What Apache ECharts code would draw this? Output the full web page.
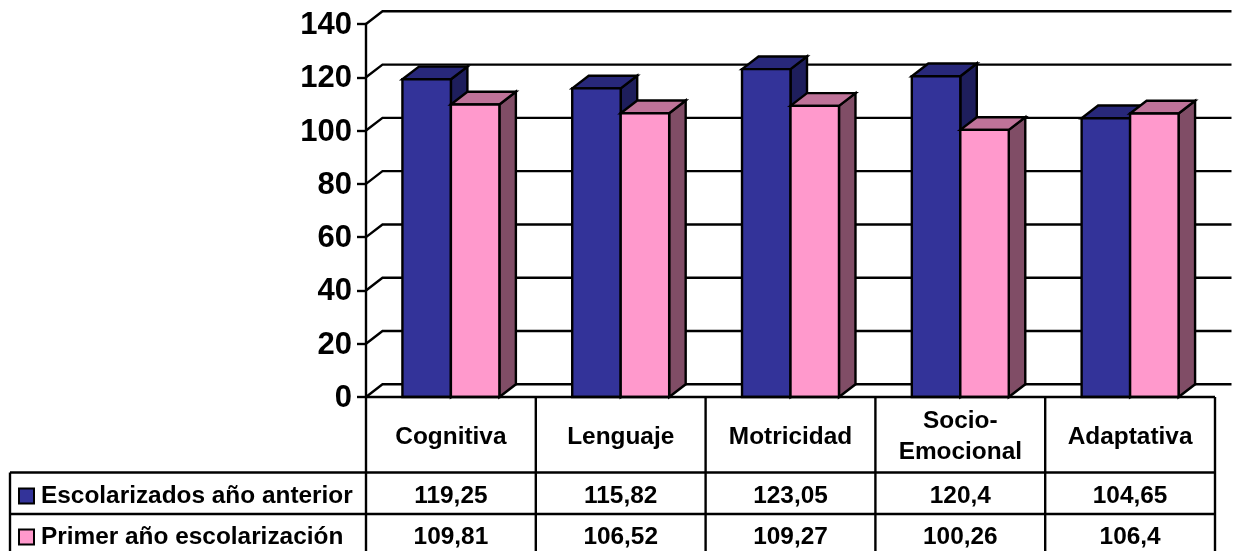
<!DOCTYPE html>
<html><head><meta charset="utf-8">
<style>html,body{margin:0;padding:0;background:#fff}#c{width:1240px;height:551px}</style>
<script src="https://cdn.jsdelivr.net/npm/echarts@6/dist/echarts.min.js"></script>
</head><body><div id="c"></div>
<script>
const categories = ['Cognitiva','Lenguaje','Motricidad','Socio-\nEmocional','Adaptativa'];
const seriesNames = ['Escolarizados año anterior','Primer año escolarización'];
const escolarizados = [119.25,115.82,123.05,120.4,104.65];
const primerAno = [109.81,106.52,109.27,100.26,106.4];
const yTicks = [0,20,40,60,80,100,120,140];

const FONT = '"Liberation Sans", Arial, sans-serif';
const DX = 16.5, DY = -12.7, BAR_RATIO = 0.2855;
const LEFT = 366, TOP = 24, W = 849, H = 373, TABLE_LEFT = 10, ROW1 = 472.5, ROW2 = 514, BOTTOM = 560;
const LW = 2.4, TXT = 24.4;
const L = {stroke:'#000', lineWidth:LW};
const fmt = v => String(v).replace('.', ',');
const palette = [
  {front:'#333399', top:'#28287a', side:'#1e1e5c'},
  {front:'#ff99cc', top:'#bf7399', side:'#804d66'}
];

function barRender(idx){
  return function(params, api){
    const i = api.value(0), v = api.value(1);
    const base = api.coord([i,0]), tip = api.coord([i,v]);
    const w = api.size([1,0])[0]*BAR_RATIO;
    const x0 = base[0] + (idx===0 ? -w : 0), x1 = x0 + w;
    const y0 = base[1], y1 = tip[1];
    const c = palette[idx];
    return {type:'group', children:[
      {type:'polygon', shape:{points:[[x1,y1],[x1+DX,y1+DY],[x1+DX,y0+DY],[x1,y0]]}, style:{fill:c.side, ...L}},
      {type:'polygon', shape:{points:[[x0,y1],[x0+DX,y1+DY],[x1+DX,y1+DY],[x1,y1]]}, style:{fill:c.top, ...L}},
      {type:'rect', shape:{x:x0,y:y1,width:w,height:y0-y1}, style:{fill:c.front, ...L}}
    ]};
  };
}
function wallRender(params, api){
  const p = api.coord([0, api.value(0)]);
  const y = p[1];
  return {type:'polyline', shape:{points:[[LEFT,y],[LEFT+DX,y+DY],[LEFT+W+DX,y+DY]]}, style:{fill:null, ...L}};
}
function tableRender(params, api){
  const i = params.dataIndex;
  const cx = api.coord([i,0])[0], cw = api.size([1,0])[0];
  const text = (v,y)=>({type:'text', style:{text:fmt(v), x:cx, y:y, align:'center', verticalAlign:'middle',
     font:'bold '+TXT+'px '+FONT, fill:'#000'}});
  const kids = [
    {type:'line', shape:{x1:cx+cw/2,y1:TOP+H,x2:cx+cw/2,y2:BOTTOM}, style:L},
    text(api.value(1), 496),
    text(api.value(2), 537)
  ];
  if(i===0){
    kids.push(
      {type:'line', shape:{x1:LEFT,y1:TOP+H,x2:LEFT,y2:BOTTOM}, style:L},
      {type:'line', shape:{x1:LEFT,y1:TOP+H,x2:LEFT+W,y2:TOP+H}, style:L},
      {type:'line', shape:{x1:TABLE_LEFT,y1:ROW1,x2:LEFT+W,y2:ROW1}, style:L},
      {type:'line', shape:{x1:TABLE_LEFT,y1:ROW2,x2:LEFT+W,y2:ROW2}, style:L},
      {type:'line', shape:{x1:TABLE_LEFT,y1:ROW1,x2:TABLE_LEFT,y2:BOTTOM}, style:L}
    );
  }
  return {type:'group', children:kids};
}
const legendFor = (k, top) => ({
  left:18, top:top, itemWidth:15, itemHeight:15, selectedMode:false, icon:'rect', padding:0,
  textStyle:{fontFamily:FONT, fontWeight:'bold', fontSize:TXT, color:'#000', padding:[6,0,0,2]},
  data:[{name:seriesNames[k], itemStyle:{color:palette[k].front, borderColor:'#000', borderWidth:2}}]
});

const chart = echarts.init(document.getElementById('c'), null, {renderer:'canvas'});
chart.setOption({
  animation:false,
  backgroundColor:'#fff',
  grid:{left:LEFT, top:TOP, width:W, height:H},
  legend:[legendFor(0,484), legendFor(1,525)],
  xAxis:{type:'category', data:categories,
    axisLine:{show:false}, axisTick:{show:false}, splitLine:{show:false},
    axisLabel:{interval:0, margin:40, verticalAlign:'middle', lineHeight:31, fontFamily:FONT, fontWeight:'bold', fontSize:TXT, color:'#000'}},
  yAxis:{type:'value', min:0, max:140, interval:20,
    axisLine:{show:true, lineStyle:{color:'#000', width:LW}},
    axisTick:{show:true, length:9, lineStyle:{color:'#000', width:LW}},
    splitLine:{show:false},
    axisLabel:{margin:14, verticalAlign:'top', lineHeight:3, fontFamily:FONT, fontWeight:'bold', fontSize:31, color:'#000', hideOverlap:false}},
  series:[
    {type:'custom', name:'wall', coordinateSystem:'cartesian2d', z:1, data:yTicks.map(t=>[t]), encode:{y:0}, renderItem:wallRender, silent:true},
    {type:'custom', name:seriesNames[0], z:3, itemStyle:{color:palette[0].front}, data:escolarizados.map((v,i)=>[i,v]), encode:{x:0,y:1}, renderItem:barRender(0)},
    {type:'custom', name:seriesNames[1], z:4, itemStyle:{color:palette[1].front}, data:primerAno.map((v,i)=>[i,v]), encode:{x:0,y:1}, renderItem:barRender(1)},
    {type:'custom', name:'tabla', z:5, data:categories.map((c,i)=>[i,escolarizados[i],primerAno[i]]), encode:{x:0}, renderItem:tableRender, silent:true}
  ]
});
</script></body></html>
